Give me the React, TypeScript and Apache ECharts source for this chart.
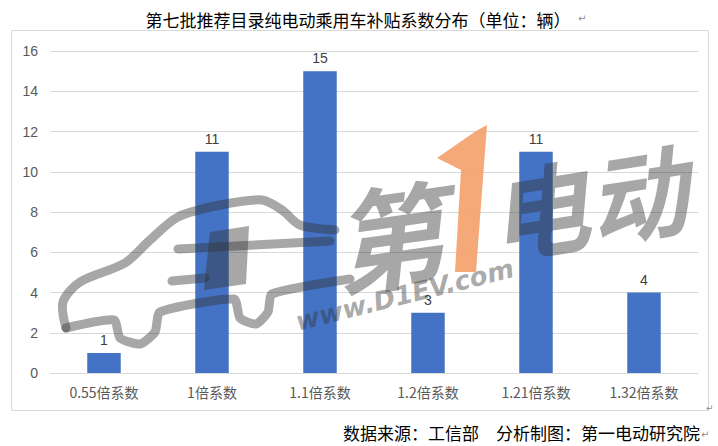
import React, { useEffect, useRef } from "react";
import * as echarts from "echarts";

const categories = ["0.55倍系数", "1倍系数", "1.1倍系数", "1.2倍系数", "1.21倍系数", "1.32倍系数"];
const counts = [1, 11, 15, 3, 11, 4];
const titleText = "第七批推荐目录纯电动乘用车补贴系数分布（单位：辆）";
const footerText = "数据来源：工信部　分析制图：第一电动研究院";

const WM = "rgba(50,50,50,0.43)";

export default function App() {
  const ref = useRef<HTMLDivElement>(null);
  useEffect(() => {
    if (!ref.current) return;
    const chart = echarts.init(ref.current, null, { renderer: "svg" });
    chart.setOption({
      animation: false,
      backgroundColor: "#ffffff",
      title: {
        text: titleText,
        left: 353,
        textAlign: "center",
        top: 6,
        textStyle: { fontSize: 17, fontWeight: "normal", color: "#000000", fontFamily: "Noto Sans CJK SC" },
      },
      graphic: [
        {
          type: "rect",
          z: 0,
          shape: { x: 11.5, y: 30.5, width: 697, height: 380 },
          style: { fill: "none", stroke: "#d9d9d9", lineWidth: 1 },
          silent: true,
        },
        {
          type: "text",
          x: 578,
          y: 18,
          style: { text: "↵", fill: "#8c8c8c", font: "10px 'DejaVu Sans'", textVerticalAlign: "middle" },
        },
        {
          type: "text",
          x: 700,
          y: 432,
          style: {
            text: footerText,
            fill: "#000000",
            font: "17px 'Noto Sans CJK SC'",
            textAlign: "right",
            textVerticalAlign: "middle",
          },
        },
        {
          type: "text",
          x: 701,
          y: 434,
          style: { text: "↵", fill: "#8c8c8c", font: "10px 'DejaVu Sans'", textVerticalAlign: "middle" },
        },
        {
          type: "text",
          x: 706,
          y: 408,
          style: { text: "↵", fill: "#8c8c8c", font: "9px 'DejaVu Sans'", textVerticalAlign: "middle" },
        },
        {
          type: "group",
          z: 100,
          silent: true,
          children: [
            {
              type: "polyline",
              z: 100,
              shape: {
                points: [[66, 328], [63, 302], [80, 282], [125, 263], [150, 240], [178, 217], [220, 205], [262, 200], [282, 210], [300, 225], [335, 230]],
                smooth: 0.3,
              },
              style: { stroke: WM, lineWidth: 9, fill: "none", lineCap: "round", lineJoin: "round" },
            },
            {
              type: "polyline",
              z: 100,
              shape: {
                points: [[66, 328], [114, 320], [120, 338], [140, 344], [155, 332], [160, 312], [234, 299], [240, 318], [256, 324], [268, 312], [272, 294], [350, 279]],
                smooth: 0.2,
              },
              style: { stroke: WM, lineWidth: 9, fill: "none", lineCap: "round", lineJoin: "round" },
            },
            {
              type: "line",
              z: 100,
              shape: { x1: 178, y1: 249, x2: 330, y2: 241 },
              style: { stroke: WM, lineWidth: 9, lineCap: "round" },
            },
            {
              type: "line",
              z: 100,
              shape: { x1: 172, y1: 281, x2: 205, y2: 278 },
              style: { stroke: WM, lineWidth: 9, lineCap: "round" },
            },
            {
              type: "polygon",
              z: 100,
              shape: { points: [[210, 232], [249, 226], [246, 284], [204, 290]] },
              style: { fill: WM },
            },
            {
              type: "text",
              z: 100,
              x: 332,
              y: 240,
              rotation: (8 * Math.PI) / 180,
              style: {
                text: "第",
                fill: WM,
                font: "italic bold 112px 'Noto Sans CJK SC'",
                textVerticalAlign: "middle",
              },
            },
            {
              type: "text",
              z: 100,
              x: 488,
              y: 214,
              rotation: (9 * Math.PI) / 180,
              style: {
                text: "电动",
                fill: WM,
                font: "italic bold 100px 'Noto Sans CJK SC'",
                textVerticalAlign: "middle",
              },
            },
            {
              type: "polygon",
              z: 101,
              shape: { points: [[487, 125], [476, 272], [455, 272], [461, 170], [437, 158], [476, 131]] },
              style: { fill: "rgba(245,160,105,0.9)" },
            },
            {
              type: "text",
              z: 101,
              x: 296,
              y: 322,
              rotation: (14 * Math.PI) / 180,
              style: {
                text: "www.D1EV.com",
                fill: WM,
                font: "italic bold 26px 'DejaVu Sans'",
                textVerticalAlign: "middle",
              },
            },
          ],
        },
      ],
      grid: { left: 50, right: 20, top: 51, bottom: 73, containLabel: false },
      xAxis: {
        type: "category",
        data: categories,
        axisLine: { lineStyle: { color: "#d9d9d9" } },
        axisTick: { show: false },
        axisLabel: { color: "#595959", fontSize: 14, margin: 12, fontFamily: "Noto Sans CJK SC" },
      },
      yAxis: {
        type: "value",
        min: 0,
        max: 16,
        interval: 2,
        axisLine: { show: false },
        axisTick: { show: false },
        splitLine: { lineStyle: { color: "#d9d9d9" } },
        axisLabel: { color: "#595959", fontSize: 14, margin: 12, fontFamily: "Liberation Sans" },
      },
      series: [
        {
          type: "bar",
          z: 3,
          data: counts,
          barWidth: "31%",
          itemStyle: { color: "#4472C4" },
          label: {
            show: true,
            position: "top",
            distance: 6,
            color: "#404040",
            fontSize: 14,
            fontFamily: "Liberation Sans",
          },
        },
      ],
    });
    return () => chart.dispose();
  }, []);
  return <div ref={ref} style={{ width: 718, height: 446, position: "absolute", left: 0, top: 0 }} />;
}
